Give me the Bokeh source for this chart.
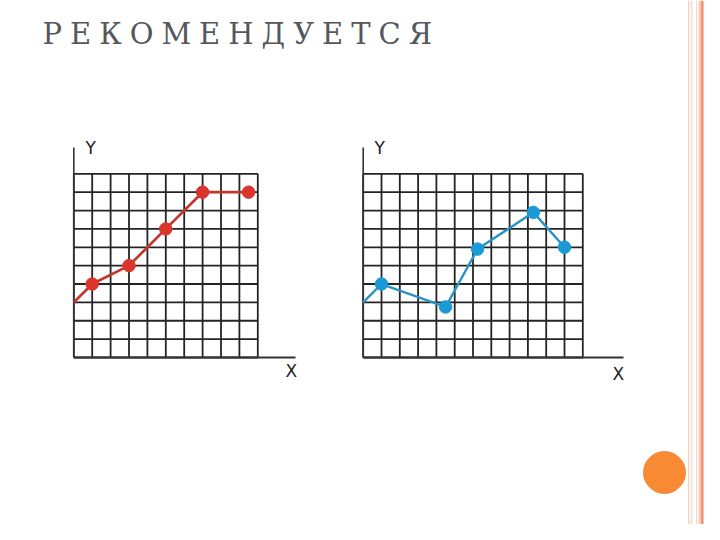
from bokeh.plotting import figure
from bokeh.models import Range1d, InlineStyleSheet
from bokeh.core.properties import value
from bokeh.embed import file_html
from bokeh.resources import INLINE

# ---------------- data ----------------
title_text = "РЕКОМЕНДУЕТСЯ"
axis_x_label = "X"
axis_y_label = "Y"

# left chart (red): first point is where the line enters at the Y axis (no marker)
red_x = [0, 1, 3, 5, 7, 9.5]
red_y = [3, 4, 5, 7, 9, 9]
red_marked = [False, True, True, True, True, True]

# right chart (blue)
blue_x = [0, 1, 4.5, 6.25, 9.3, 11]
blue_y = [3, 4, 2.75, 5.9, 7.9, 6]
blue_marked = [False, True, True, True, True, True]

grid1_x = list(range(0, 11))
grid1_y = list(range(0, 11))
grid2_x = list(range(0, 13))
grid2_y = list(range(0, 11))

# ---------------- layout (page pixels) ----------------
W, H = 704, 524
left_px, right_px = 0, W
top_px, bottom_px = 0, H

c1_left, c1_cell = 73.3, 18.4
c2_left, c2_cell = 362.7, 18.3
c_bottom, c_cell_y = 357.0, 18.37
y_axis_top_px = 147.0
c1_xaxis_end_px = 295.0
c2_xaxis_end_px = 623.0

p = figure(width=W, height=H,
           x_range=Range1d(left_px, right_px),
           y_range=Range1d(bottom_px, top_px),
           output_backend="svg", toolbar_location=None,
           min_border=0, outline_line_color=None,
           background_fill_color="white", border_fill_color="white")
p.axis.visible = False
p.grid.visible = False
p.stylesheets = [InlineStyleSheet(css=":host { letter-spacing: 8px; }")]

p.extra_x_ranges = {
    "c1x": Range1d((left_px - c1_left) / c1_cell, (right_px - c1_left) / c1_cell),
    "c2x": Range1d((left_px - c2_left) / c2_cell, (right_px - c2_left) / c2_cell),
}
p.extra_y_ranges = {
    "cy": Range1d((c_bottom - bottom_px) / c_cell_y, (c_bottom - top_px) / c_cell_y),
}

# ---------------- decorations ----------------
# right border stripes
p.quad(left=[698], right=[720], top=[0], bottom=[540], fill_color="#fdc9b6", line_color=None)
p.quad(left=[687.5, 690.5, 695.5, 700.5, 707.5],
       right=[689.0, 692.0, 696.5, 702.7, 708.5],
       top=[0] * 5, bottom=[540] * 5,
       fill_color=["#f1d2c4", "#f6dcd0", "#efd8cc", "#ec9874", "#f8b9a1"],
       line_color=None)
# orange dot
p.circle(x=[664], y=[472], radius=21, fill_color="#f98a34", line_color="#ee8a45", line_width=1)

# title
p.text(x=[42], y=[33.5], text=[title_text], text_font=value("DejaVu Serif"),
       text_font_size="29px", text_color="#54575c",
       text_baseline="alphabetic", text_align="left")


def draw_chart(xr, gx, gy, xaxis_end, xs, ys, marked, line_color, marker_color, lw):
    ymax = gy[-1]
    xmax = gx[-1]
    grid_col = "#242424"
    p.segment(x0=gx, y0=[gy[0]] * len(gx), x1=gx, y1=[ymax] * len(gx),
              x_range_name=xr, y_range_name="cy", line_color=grid_col, line_width=1.8)
    p.segment(x0=[gx[0]] * len(gy), y0=gy, x1=[xmax] * len(gy), y1=gy,
              x_range_name=xr, y_range_name="cy", line_color=grid_col, line_width=1.8)
    ytop = (c_bottom - y_axis_top_px) / c_cell_y
    p.line(x=[0, 0], y=[0, ytop], x_range_name=xr, y_range_name="cy",
           line_color="#333333", line_width=1.6)
    p.line(x=[0, xaxis_end], y=[0, 0], x_range_name=xr, y_range_name="cy",
           line_color="#333333", line_width=1.8)
    p.line(x=xs, y=ys, x_range_name=xr, y_range_name="cy",
           line_color=line_color, line_width=lw)
    mx = [x for x, m in zip(xs, marked) if m]
    my = [y for y, m in zip(ys, marked) if m]
    p.scatter(x=mx, y=my, x_range_name=xr, y_range_name="cy", size=12.5,
              fill_color=marker_color, line_color=marker_color)


draw_chart("c1x", grid1_x, grid1_y, (c1_xaxis_end_px - c1_left) / c1_cell,
           red_x, red_y, red_marked, "#c2362e", "#da352b", 2.7)
draw_chart("c2x", grid2_x, grid2_y, (c2_xaxis_end_px - c2_left) / c2_cell,
           blue_x, blue_y, blue_marked, "#2a93c6", "#1b9bd6", 2.4)

# axis letters
p.text(x=[85, 374], y=[147.5, 147.5], text=[axis_y_label, axis_y_label],
       text_font=value("DejaVu Sans"), text_font_size="17px", text_color="#1e1e1e",
       text_baseline="middle", text_align="left")
p.text(x=[285, 612], y=[370, 373], text=[axis_x_label, axis_x_label],
       text_font=value("DejaVu Sans"), text_font_size="17px", text_color="#1e1e1e",
       text_baseline="middle", text_align="left")

open("out.html", "w").write(file_html(p, INLINE))
